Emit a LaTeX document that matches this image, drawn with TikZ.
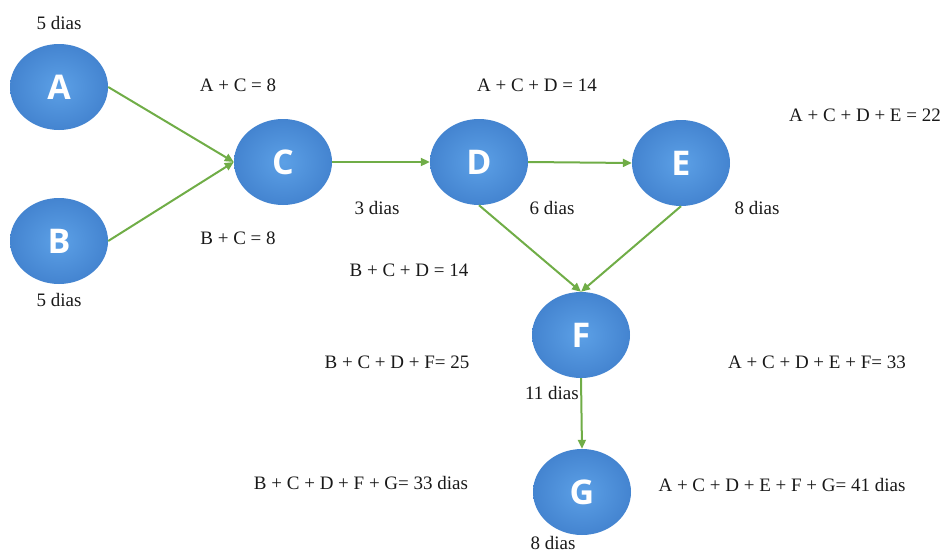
\documentclass[tikz,border=0pt]{standalone}
\usepackage{fontspec}
\setmainfont{Liberation Serif}
\newfontfamily\lblfont{Liberation Serif}
\newfontfamily\nodefont{Open Sans}
\usetikzlibrary{shapes.geometric,arrows.meta}
\definecolor{nodein}{RGB}{92,160,230}
\definecolor{nodeout}{RGB}{68,132,208}
\definecolor{arrgreen}{RGB}{112,173,71}
\tikzset{
  task/.style={ellipse, minimum width=98pt, minimum height=86pt, inner sep=0pt,
    shading=radial, inner color=nodein, outer color=nodeout,
    text=white, font=\nodefont\bfseries\fontsize{34}{34}\selectfont},
  lbl/.style={inner sep=0pt, text=black!90, font=\lblfont\fontsize{19}{19}\selectfont},
  arr/.style={draw=arrgreen, line width=2pt, -{Triangle[length=9pt,width=8pt]}}
}
\begin{document}
\begin{tikzpicture}[x=1pt,y=-1pt]
\useasboundingbox (0,0) rectangle (943,554);
% nodes
\node[task] (A) at (59,87) {A};
\node[task] (B) at (59,241) {B};
\node[task] (C) at (283,162) {C};
\node[task] (D) at (479,162) {D};
\node[task] (E) at (681,163) {E};
\node[task] (F) at (581,335) {F};
\node[task] (G) at (582,492) {G};
% connectors
\draw[arr] (A.east) -- (C.west);
\draw[arr] (B.east) -- (C.west);
\draw[arr] (C.east) -- (D.west);
\draw[arr] (D.east) -- (E.west);
\draw[arr] (D.south) -- (F.north);
\draw[arr] (E.south) -- (F.north);
\draw[arr] (F.south) -- (G.north);
% labels
\node[lbl] (lA) at (59,23) {5 dias};
\node[lbl] (lB) at (59,300) {5 dias};
\node[lbl] (lAC) at (238,85) {A + C = 8};
\node[lbl] (lBC) at (238,238) {B + C = 8};
\node[lbl] (lACD) at (537,85) {A + C + D = 14};
\node[lbl] (lC) at (377,208) {3 dias};
\node[lbl] (lD) at (552,208) {6 dias};
\node[lbl] (lBCD) at (409,270) {B + C + D = 14};
\node[lbl] (lE) at (757,208) {8 dias};
\node[lbl] (lACDE) at (865,115) {A + C + D + E = 22};
\node[lbl] (lACDEF) at (817,362) {A + C + D + E + F= 33};
\node[lbl] (lACDEFG) at (782,485) {A + C + D + E + F + G= 41 dias};
\node[lbl] (lBCDF) at (397,362) {B + C + D + F= 25};
\node[lbl] (lBCDFG) at (361,483) {B + C + D + F + G= 33 dias};
\node[lbl] (lF) at (552,393) {11 dias};
\node[lbl] (lG) at (553,543) {8 dias};
\end{tikzpicture}
\end{document}
